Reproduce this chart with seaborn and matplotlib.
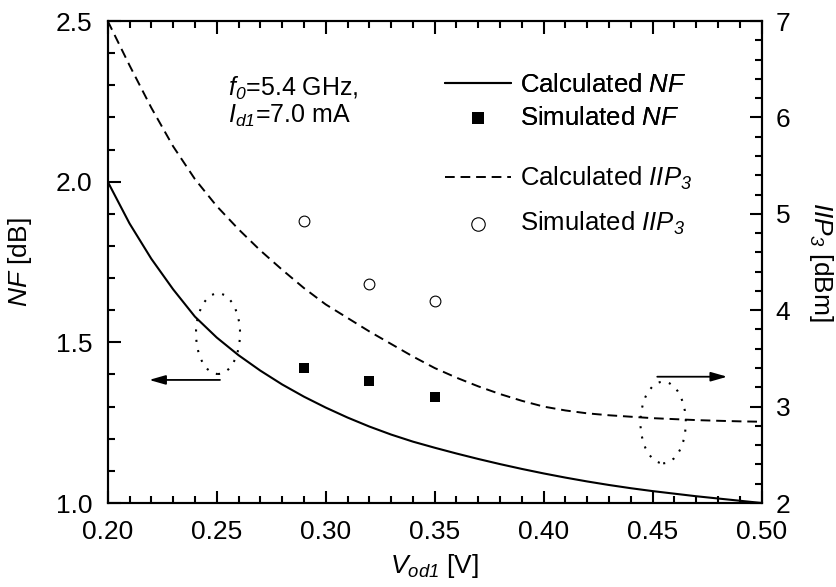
import numpy as np
import pandas as pd
import seaborn as sns
import matplotlib
matplotlib.use("Agg")
import matplotlib.pyplot as plt
from matplotlib.ticker import MultipleLocator, FormatStrFormatter
from matplotlib.patches import Ellipse

# ---- data ----
vod = [0.20, 0.21, 0.22, 0.23, 0.24, 0.25, 0.26, 0.27, 0.28, 0.29, 0.30,
       0.31, 0.32, 0.33, 0.34, 0.35, 0.36, 0.37, 0.38, 0.39, 0.40,
       0.41, 0.42, 0.43, 0.44, 0.45, 0.46, 0.47, 0.48, 0.49, 0.50]
nf_calc = [2.00, 1.87, 1.76, 1.665, 1.58, 1.515, 1.46, 1.412, 1.369, 1.331, 1.297,
           1.266, 1.238, 1.213, 1.191, 1.172, 1.154, 1.137, 1.121, 1.106, 1.092,
           1.079, 1.067, 1.056, 1.046, 1.037, 1.029, 1.021, 1.014, 1.007, 1.000]
iip3_calc = [7.00, 6.54, 6.10, 5.70, 5.36, 5.08, 4.84, 4.62, 4.42, 4.23, 4.06,
             3.92, 3.78, 3.65, 3.52, 3.40, 3.30, 3.21, 3.13, 3.06, 3.00,
             2.96, 2.93, 2.91, 2.895, 2.88, 2.87, 2.86, 2.853, 2.847, 2.843]
vod_sim = [0.29, 0.32, 0.35]
nf_sim = [1.42, 1.38, 1.33]
iip3_sim = [4.93, 4.27, 4.10]

sns.set_theme(style="ticks")
plt.rcParams["font.family"] = ["Liberation Sans", "DejaVu Sans"]
plt.rcParams["mathtext.fontset"] = "custom"
plt.rcParams["mathtext.rm"] = "Liberation Sans"
plt.rcParams["mathtext.it"] = "Liberation Sans:italic"
plt.rcParams["mathtext.cal"] = "Liberation Sans:italic"
plt.rcParams["mathtext.bf"] = "Liberation Sans:bold"
plt.rcParams["text.color"] = "black"
plt.rcParams["axes.labelcolor"] = "black"
plt.rcParams["xtick.color"] = "black"
plt.rcParams["ytick.color"] = "black"

FS = 19
LFS = 18.5
fig = plt.figure(figsize=(8.37, 5.87), dpi=100)
ax = fig.add_axes([0.1287, 0.1431, 0.7813, 0.8211])
ax2 = ax.twinx()

calc = pd.DataFrame({"vod": vod, "nf": nf_calc, "iip3": iip3_calc})
sim = pd.DataFrame({"vod": vod_sim, "nf": nf_sim, "iip3": iip3_sim})

sns.lineplot(data=calc, x="vod", y="nf", ax=ax, color="black", linewidth=1.5,
             sort=False, estimator=None, label="Calculated $\\mathcal{NF}$")
sns.scatterplot(data=sim, x="vod", y="nf", ax=ax, color="black", marker="s",
                s=55, edgecolor="black", linewidth=0, label="Simulated $\\mathcal{NF}$")
sns.lineplot(data=calc, x="vod", y="iip3", ax=ax2, color="black", linewidth=1.4,
             linestyle=(0, (5, 3)), sort=False, estimator=None,
             label="Calculated $\\mathcal{IIP_3}$")
sns.scatterplot(data=sim, x="vod", y="iip3", ax=ax2, marker="o", s=60,
                facecolor="white", edgecolor="black", linewidth=0.8,
                label="Simulated $\\mathcal{IIP_3}$")

ax.set_xlim(0.20, 0.50)
ax.set_ylim(1.0, 2.5)
ax2.set_ylim(2, 7)

ax.xaxis.set_major_locator(MultipleLocator(0.05))
ax.xaxis.set_minor_locator(MultipleLocator(0.01))
ax.xaxis.set_major_formatter(FormatStrFormatter("%.2f"))
ax.yaxis.set_major_locator(MultipleLocator(0.5))
ax.yaxis.set_minor_locator(MultipleLocator(0.1))
ax.yaxis.set_major_formatter(FormatStrFormatter("%.1f"))
ax2.yaxis.set_major_locator(MultipleLocator(1))
ax2.yaxis.set_minor_locator(MultipleLocator(0.2))

for a in (ax, ax2):
    for sp in a.spines.values():
        sp.set_visible(True)
        sp.set_linewidth(1.5)
        sp.set_color("black")

ax.tick_params(axis="both", which="both", direction="in", colors="black",
               labelsize=FS, width=1.5)
ax.tick_params(axis="x", which="both", top=True, bottom=True)
ax.tick_params(axis="y", which="both", left=True, right=False)
ax.tick_params(which="major", length=9)
ax.tick_params(which="minor", length=5)
ax.tick_params(axis="y", pad=11)
ax.tick_params(axis="x", pad=12)
ax2.tick_params(axis="y", which="both", direction="in", right=True, left=False,
                labelsize=FS, width=1.5, colors="black", pad=10)
ax2.tick_params(which="major", length=9)
ax2.tick_params(which="minor", length=5)

ax.set_xlabel("$\\mathcal{V_{od1}}$ [V]", fontsize=FS, labelpad=6)
ax.set_ylabel("$\\mathcal{NF}$ [dB]", fontsize=FS, labelpad=16)
ax2.set_ylabel("$\\mathcal{IIP_3}$ [dBm]", fontsize=FS, rotation=270, labelpad=32)

if ax.get_legend():
    ax.get_legend().remove()
if ax2.get_legend():
    ax2.get_legend().remove()
h1, l1 = ax.get_legend_handles_labels()
h2, l2 = ax2.get_legend_handles_labels()
leg1 = ax.legend(h1, l1, loc="upper left", bbox_to_anchor=(0.515, 0.893),
                 frameon=False, fontsize=LFS, handlelength=2.6, handletextpad=0.35,
                 borderpad=0, borderaxespad=0, labelspacing=0.35, markerscale=1.25)
ax.add_artist(leg1)
leg2 = ax2.legend(h2, l2, loc="upper left", bbox_to_anchor=(0.515, 0.702),
                  frameon=False, fontsize=LFS, handlelength=2.6, handletextpad=0.35,
                  borderpad=0, borderaxespad=0, labelspacing=0.7, markerscale=1.25)

ax.text(0.2552, 2.267, "$\\mathcal{f_0}$=5.4 GHz,", fontsize=18, color="black",
        va="baseline", ha="left")
ax.text(0.2552, 2.182, "$\\mathcal{I_{d1}}$=7.0 mA", fontsize=18, color="black",
        va="baseline", ha="left")

# annotation ellipses and arrows
ax.add_patch(Ellipse((0.2506, 1.527), 0.0202, 0.251, fill=False, edgecolor="black",
                     linewidth=1.5, linestyle=(0, (1, 4))))
ax.annotate("", xy=(0.2190, 1.383), xytext=(0.2515, 1.383),
            arrowprops=dict(arrowstyle="-|>,head_length=0.7,head_width=0.2",
                            color="black", lw=1.3, mutation_scale=14,
                            shrinkA=0, shrinkB=0))
ax2.add_patch(Ellipse((0.4548, 2.835), 0.0208, 0.846, fill=False, edgecolor="black",
                      linewidth=1.5, linestyle=(0, (1, 4))))
ax2.annotate("", xy=(0.4842, 3.31), xytext=(0.4521, 3.31),
             arrowprops=dict(arrowstyle="-|>,head_length=0.7,head_width=0.2",
                             color="black", lw=1.3, mutation_scale=14,
                             shrinkA=0, shrinkB=0))

fig.savefig("out.png", dpi=100)
